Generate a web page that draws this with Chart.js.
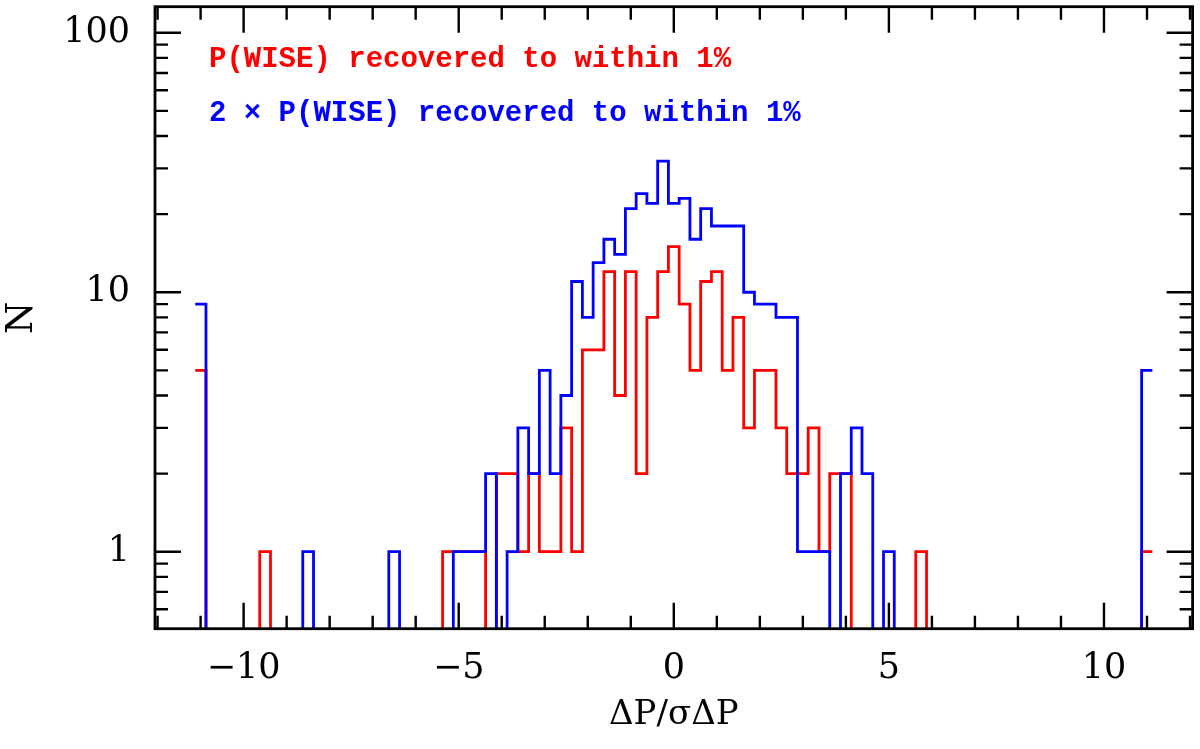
<!DOCTYPE html>
<html>
<head>
<meta charset="utf-8">
<script src="https://cdn.jsdelivr.net/npm/chart.js@4.4.1/dist/chart.umd.min.js"></script>
<style>
  html, body { margin: 0; padding: 0; background: #fff; }
  canvas { display: block; }
</style>
</head>
<body>
<canvas id="histChart" width="1200" height="749"></canvas>
<script>
// bin centres (last and first bin hold the values beyond +-11)
var binCenters = [
  -11, -10.75, -10.5, -10.25, -10, -9.75, -9.5, -9.25, -9, -8.75, -8.5, -8.25,
  -8, -7.75, -7.5, -7.25, -7, -6.75, -6.5, -6.25, -6, -5.75, -5.5, -5.25,
  -5, -4.75, -4.5, -4.25, -4, -3.75, -3.5, -3.25, -3, -2.75, -2.5, -2.25,
  -2, -1.75, -1.5, -1.25, -1, -0.75, -0.5, -0.25, 0, 0.25, 0.5, 0.75,
  1, 1.25, 1.5, 1.75, 2, 2.25, 2.5, 2.75, 3, 3.25, 3.5, 3.75,
  4, 4.25, 4.5, 4.75, 5, 5.25, 5.5, 5.75, 6, 6.25, 6.5, 6.75,
  7, 7.25, 7.5, 7.75, 8, 8.25, 8.5, 8.75, 9, 9.25, 9.5, 9.75,
  10, 10.25, 10.5, 10.75, 11
];

// P(WISE) recovered to within 1%
var redCounts = [
  5, 0, 0, 0,   0, 0, 1, 0,   0, 0, 0, 0,   0, 0, 0, 0,
  0, 0, 0, 0,   0, 0, 0, 1,   1, 1, 1, 0,   2, 2, 1, 2,
  1, 1, 3, 1,   6, 6, 12, 4,  12, 2, 8, 12, 15, 9, 5, 11,
  12, 5, 8, 3,  5, 5, 3, 2,   2, 3, 1, 2,   2, 0, 0, 0,
  0, 0, 0, 1,   0, 0, 0, 0,   0, 0, 0, 0,   0, 0, 0, 0,
  0, 0, 0, 0,   0, 0, 0, 0,   1
];

// 2 x P(WISE) recovered to within 1%
var blueCounts = [
  9, 0, 0, 0,   0, 0, 0, 0,   0, 0, 1, 0,   0, 0, 0, 0,
  0, 0, 1, 0,   0, 0, 0, 0,   1, 1, 1, 2,   0, 1, 3, 2,
  5, 2, 4, 11,  8, 13, 16, 14, 21, 24, 22, 32, 22, 23, 16, 21,
  18, 18, 18, 10, 9, 9, 8, 8, 1, 1, 1, 0,   2, 3, 2, 0,
  1, 0, 0, 0,   0, 0, 0, 0,   0, 0, 0, 0,   0, 0, 0, 0,
  0, 0, 0, 0,   0, 0, 0, 0,   5
];

var xTickLabels = [-10, -5, 0, 5, 10];
var yTickLabels = [1, 10, 100];
var legendLines = ['P(WISE) recovered to within 1%', '2 \u00d7 P(WISE) recovered to within 1%'];

var RED = '#ff0000';
var BLUE = '#0000ff';
var Y_MIN = 0.505;
var Y_MAX = 126;

// turn bins into step points at the bin edges;
// empty bins go below the axis so the step drops to the frame and is clipped
function stepPoints(centers, counts) {
  var w = centers[1] - centers[0];
  var pts = [];
  function lvl(c) { return c > 0 ? c : Y_MIN / 5; }
  for (var i = 0; i < centers.length; i++) {
    pts.push({ x: centers[i] - w / 2, y: lvl(counts[i]) });
  }
  pts.push({ x: centers[centers.length - 1] + w / 2, y: lvl(counts[counts.length - 1]) });
  return pts;
}

function fmtNum(v) {
  return v < 0 ? '\u2212' + Math.abs(v) : String(v);
}

// box, inward ticks and the text key
var framePlugin = {
  id: 'frame',
  afterDatasetsDraw: function (chart) {
    var ctx = chart.ctx;
    var a = chart.chartArea;
    var xs = chart.scales.x;
    var ys = chart.scales.y;
    ctx.save();
    ctx.strokeStyle = '#000';
    ctx.lineWidth = 2.4;
    ctx.beginPath();
    for (var v = Math.ceil(xs.min); v <= Math.floor(xs.max); v++) {
      var px = xs.getPixelForValue(v);
      var len = xTickLabels.indexOf(v) >= 0 ? 26 : 13;
      ctx.moveTo(px, a.bottom); ctx.lineTo(px, a.bottom - len);
      ctx.moveTo(px, a.top); ctx.lineTo(px, a.top + len);
    }
    for (var e = -1; e <= 2; e++) {
      for (var m = 1; m <= 9; m++) {
        var val = m * Math.pow(10, e);
        if (val < ys.min || val > ys.max) continue;
        var py = ys.getPixelForValue(val);
        var l = m === 1 ? 26 : 13;
        ctx.moveTo(a.left, py); ctx.lineTo(a.left + l, py);
        ctx.moveTo(a.right, py); ctx.lineTo(a.right - l, py);
      }
    }
    ctx.stroke();
    ctx.lineWidth = 2.8;
    ctx.strokeRect(a.left, a.top, a.right - a.left, a.bottom - a.top);

    ctx.font = 'bold 29px "Liberation Mono", "DejaVu Sans Mono", monospace';
    ctx.textBaseline = 'alphabetic';
    ctx.textAlign = 'left';
    ctx.fillStyle = RED;
    ctx.fillText(legendLines[0], a.left + 54, a.top + 60.6);
    ctx.fillStyle = BLUE;
    ctx.fillText(legendLines[1], a.left + 54, a.top + 113.8);
    ctx.restore();
  }
};

var serif = '"DejaVu Serif", "Liberation Serif", serif';

var histChart = new Chart(document.getElementById('histChart'), {
  type: 'line',
  data: {
    datasets: [{
      label: legendLines[1],
      data: stepPoints(binCenters, blueCounts),
      borderColor: BLUE,
      borderWidth: 2.8,
      stepped: 'before',
      pointRadius: 0,
      fill: false,
      order: 0
    }, {
      label: legendLines[0],
      data: stepPoints(binCenters, redCounts),
      borderColor: RED,
      borderWidth: 2.8,
      stepped: 'before',
      pointRadius: 0,
      fill: false,
      order: 1
    }]
  },
  options: {
    responsive: false,
    animation: false,
    devicePixelRatio: 1,
    layout: { padding: { left: 0, right: 7.4, top: 6.7, bottom: 0 } },
    plugins: {
      legend: { display: false },
      tooltip: { enabled: false }
    },
    scales: {
      x: {
        type: 'linear',
        position: 'bottom',
        min: -12.06,
        max: 12.06,
        grid: { display: false, drawTicks: false },
        border: { display: false },
        afterFit: function (s) {
          s.height = 120.3;
          s.paddingLeft = 0; s.paddingRight = 0;
        },
        afterBuildTicks: function (s) {
          s.ticks = xTickLabels.map(function (v) { return { value: v }; });
        },
        ticks: {
          font: { family: serif, size: 35 },
          color: '#000',
          padding: 19,
          maxRotation: 0,
          autoSkip: false,
          callback: function (v) { return fmtNum(v); }
        },
        title: {
          display: true,
          text: '\u0394P/\u03c3\u0394P',
          font: { family: serif, size: 34 },
          color: '#000',
          padding: { top: 0, bottom: 13.4 }
        }
      },
      y: {
        type: 'logarithmic',
        position: 'left',
        min: Y_MIN,
        max: Y_MAX,
        grid: { display: false, drawTicks: false },
        border: { display: false },
        afterFit: function (s) {
          s.width = 155;
          s.paddingTop = 0; s.paddingBottom = 0;
        },
        afterBuildTicks: function (s) {
          s.ticks = yTickLabels.map(function (v) { return { value: v }; });
        },
        ticks: {
          font: { family: serif, size: 35 },
          color: '#000',
          padding: 25,
          autoSkip: false,
          callback: function (v) { return fmtNum(v); }
        },
        title: {
          display: true,
          text: 'N',
          font: { family: serif, size: 37 },
          color: '#000',
          padding: { top: 0, bottom: 0 }
        }
      }
    }
  },
  plugins: [framePlugin]
});
</script>
</body>
</html>
